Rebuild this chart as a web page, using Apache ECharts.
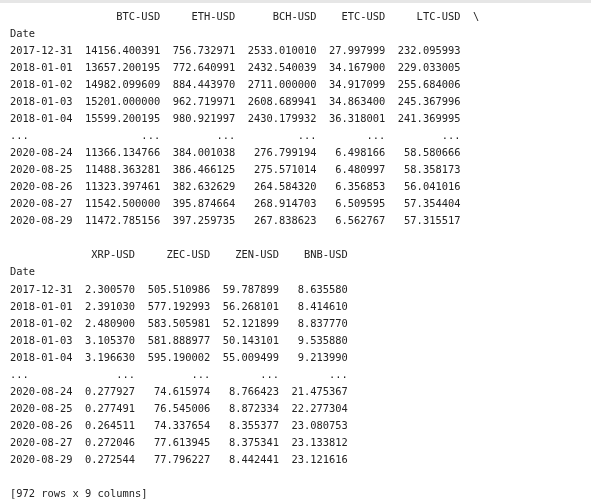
<!DOCTYPE html>
<html>
<head>
<meta charset="utf-8">
<script src="https://cdn.jsdelivr.net/npm/echarts@6/dist/echarts.min.js"></script>
<style>
  html, body { margin: 0; padding: 0; background: #fff; }
  #main { width: 591px; height: 502px; border-top: 3px solid #e6e6e6; box-sizing: border-box; }
</style>
</head>
<body>
<div id="main"></div>
<script>
// rows shown in the frame printout (head and tail)
const dates = ['2017-12-31', '2018-01-01', '2018-01-02', '2018-01-03', '2018-01-04',
  '2020-08-24', '2020-08-25', '2020-08-26', '2020-08-27', '2020-08-29'];
const btc = [14156.400391, 13657.200195, 14982.099609, 15201.000000, 15599.200195,
  11366.134766, 11488.363281, 11323.397461, 11542.500000, 11472.785156];
const eth = [756.732971, 772.640991, 884.443970, 962.719971, 980.921997,
  384.001038, 386.466125, 382.632629, 395.874664, 397.259735];
const bch = [2533.010010, 2432.540039, 2711.000000, 2608.689941, 2430.179932,
  276.799194, 275.571014, 264.584320, 268.914703, 267.838623];
const etc = [27.997999, 34.167900, 34.917099, 34.863400, 36.318001,
  6.498166, 6.480997, 6.356853, 6.509595, 6.562767];
const ltc = [232.095993, 229.033005, 255.684006, 245.367996, 241.369995,
  58.580666, 58.358173, 56.041016, 57.354404, 57.315517];
const xrp = [2.300570, 2.391030, 2.480900, 3.105370, 3.196630,
  0.277927, 0.277491, 0.264511, 0.272046, 0.272544];
const zec = [505.510986, 577.192993, 583.505981, 581.888977, 595.190002,
  74.615974, 76.545006, 74.337654, 77.613945, 77.796227];
const zen = [59.787899, 56.268101, 52.121899, 50.143101, 55.009499,
  8.766423, 8.872334, 8.355377, 8.375341, 8.442441];
const bnb = [8.635580, 8.414610, 8.837770, 9.535880, 9.213990,
  21.475367, 22.277304, 23.080753, 23.133812, 23.121616];
const block1 = [['BTC-USD', btc], ['ETH-USD', eth], ['BCH-USD', bch], ['ETC-USD', etc], ['LTC-USD', ltc]];
const block2 = [['XRP-USD', xrp], ['ZEC-USD', zec], ['ZEN-USD', zen], ['BNB-USD', bnb]];
const footer = '[972 rows x 9 columns]';

// build the printed lines like pandas does
function blockLines(cols, wrapped) {
  const fmt = cols.map(c => c[1].map(v => v.toFixed(6)));
  const widths = cols.map((c, i) => Math.max(c[0].length, ...fmt[i].map(s => s.length)));
  const lines = [];
  let head = ' '.repeat(10);
  cols.forEach((c, i) => { head += '  ' + c[0].padStart(widths[i]); });
  if (wrapped) head += '  \\';
  lines.push(head);
  lines.push('Date');
  dates.forEach((d, r) => {
    if (r === 5) {
      let dots = '...'.padEnd(10);
      widths.forEach(w => { dots += '  ' + '...'.padStart(w); });
      lines.push(dots);
    }
    let s = d;
    widths.forEach((w, i) => { s += '  ' + fmt[i][r].padStart(w); });
    lines.push(s);
  });
  return lines;
}

const lines = [].concat(blockLines(block1, true), [''], blockLines(block2, false), [''], [footer]);

const chart = echarts.init(document.getElementById('main'), null, { renderer: 'canvas' });
chart.setOption({
  animation: false,
  graphic: lines.map((t, i) => ({
    type: 'text',
    left: 10,
    top: 9 + i * 17.05,
    style: {
      text: t,
      fontFamily: 'DejaVu Sans Mono',
      fontSize: 10.4,
      fill: '#222'
    }
  }))
});
</script>
</body>
</html>
